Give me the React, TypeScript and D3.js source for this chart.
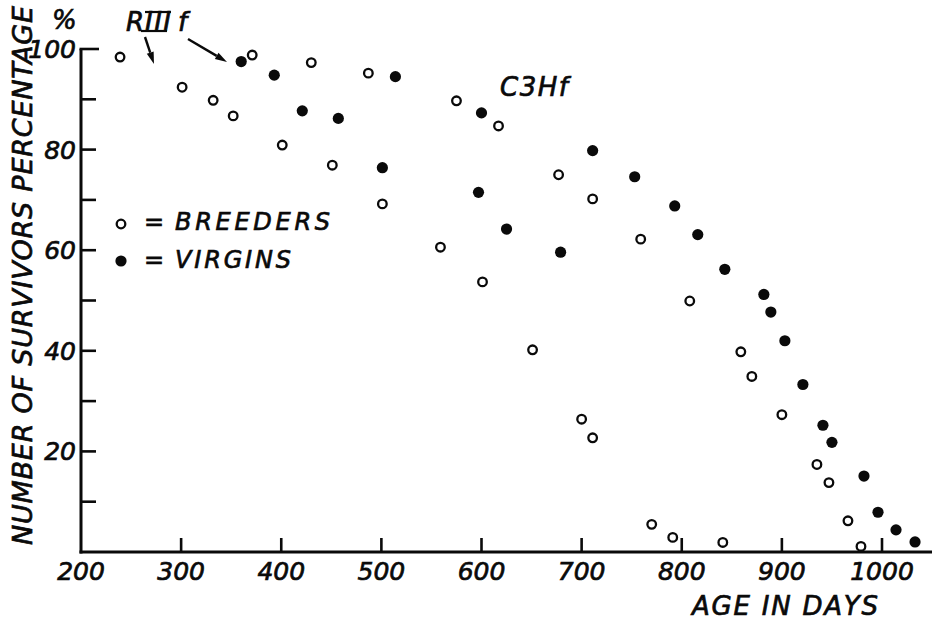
import React from "react";
import * as d3 from "d3";

const breedersDays = [239, 301, 332, 352, 371, 401, 430, 451, 487, 501, 559, 575, 601, 617, 651, 677, 700, 711, 711, 759, 770, 791, 808, 841, 859, 870, 900, 935, 947, 966, 979];
const breedersPct = [98.4, 92.4, 89.8, 86.7, 98.8, 80.9, 97.3, 76.9, 95.2, 69.2, 60.6, 89.7, 53.7, 84.7, 40.2, 75.0, 26.4, 70.2, 22.7, 62.2, 5.5, 2.9, 49.9, 1.9, 39.8, 34.9, 27.3, 17.4, 13.8, 6.2, 1.1];

const virginsDays = [360, 393, 421, 457, 501, 514, 597, 600, 625, 679, 711, 753, 793, 816, 843, 882, 889, 903, 921, 941, 950, 982, 996, 1014, 1033];
const virginsPct = [97.5, 94.8, 87.7, 86.2, 76.4, 94.5, 71.5, 87.3, 64.2, 59.6, 79.8, 74.6, 68.8, 63.1, 56.2, 51.2, 47.7, 42.0, 33.3, 25.2, 21.8, 15.1, 7.9, 4.4, 2.0];

const xTicks = [300, 400, 500, 600, 700, 800, 900, 1000];
const xTickLabels = [200, 300, 400, 500, 600, 700, 800, 900, 1000];
const yTicks = [10, 20, 30, 40, 50, 60, 70, 80, 90, 100];
const yTickLabels = [20, 40, 60, 80, 100];

const FONT = "'DejaVu Sans', sans-serif";
const INK = "#0a0a0a";

function arrow(x1: number, y1: number, x2: number, y2: number) {
  const dx = x2 - x1, dy = y2 - y1;
  const len = Math.hypot(dx, dy);
  const ux = dx / len, uy = dy / len;
  const hl = 12, hw = 3.6;
  const bx = x2 - ux * hl, by = y2 - uy * hl;
  const px = -uy, py = ux;
  return (
    <g>
      <line x1={x1} y1={y1} x2={bx} y2={by} stroke={INK} strokeWidth={2.4} />
      <polygon
        points={`${x2},${y2} ${bx + px * hw},${by + py * hw} ${bx - px * hw},${by - py * hw}`}
        fill={INK}
      />
    </g>
  );
}

export default function App() {
  const W = 934, H = 622;
  const x = d3.scaleLinear().domain([200, 1000]).range([81, 882]);
  const y = d3.scaleLinear().domain([0, 100]).range([552, 49]);

  const italic = {
    fontFamily: FONT,
    fontStyle: "italic" as const,
    fill: INK,
    stroke: INK,
    strokeWidth: 0.7,
  };

  return (
    <svg width={W} height={H} style={{ position: "absolute", left: 0, top: 0, background: "#fff" }}>
      <rect width={W} height={H} fill="#fff" />
      {/* axes */}
      <line x1={x(200)} y1={y(100)} x2={x(200)} y2={y(0) + 1.5} stroke={INK} strokeWidth={3} />
      <line x1={x(200) - 1.5} y1={y(0)} x2={932} y2={y(0)} stroke={INK} strokeWidth={3} />
      {yTicks.map((t) => (
        <line key={"yt" + t} x1={x(200) - (t === 100 ? 1.5 : 0)} x2={x(200) + (t === 100 ? 18 : 15)} y1={y(t)} y2={y(t)} stroke={INK} strokeWidth={2.6} />
      ))}
      {xTicks.map((t) => (
        <line key={"xt" + t} x1={x(t)} x2={x(t)} y1={y(0)} y2={y(0) - 14} stroke={INK} strokeWidth={2.6} />
      ))}
      {yTickLabels.map((t) => (
        <text key={"yl" + t} x={x(200) - 5} y={y(t) + 9} textAnchor="end" fontSize={25} style={italic}>
          {t}
        </text>
      ))}
      {xTickLabels.map((t) => (
        <text key={"xl" + t} x={x(t)} y={580} textAnchor="middle" fontSize={25} style={italic}>
          {t}
        </text>
      ))}
      <text x={52} y={29} fontSize={26} style={italic}>%</text>
      <text
        transform="translate(32,545) rotate(-90)"
        x={0}
        y={0}
        fontSize={27}
        textLength={539}
        lengthAdjust="spacing"
        style={italic}
      >
        NUMBER OF SURVIVORS PERCENTAGE
      </text>
      <text x={692} y={615} fontSize={26} textLength={186} lengthAdjust="spacing" style={italic}>
        AGE IN DAYS
      </text>

      {/* annotations */}
      <text x={126} y={31} fontSize={26} style={italic}>R</text>
      <text x={145} y={31} fontSize={26} letterSpacing={1.5} style={italic}>III</text>
      <line x1={145} x2={171} y1={12} y2={12} stroke={INK} strokeWidth={2.2} />
      <line x1={141} x2={167} y1={31} y2={31} stroke={INK} strokeWidth={2.2} />
      <text x={178} y={31} fontSize={26} style={italic}>f</text>
      {arrow(145, 37, 154, 64)}
      {arrow(188, 39, 227, 62)}
      <text x={500} y={96} fontSize={26} letterSpacing={1.5} style={italic}>C3Hf</text>

      {/* legend */}
      <circle cx={121} cy={224} r={4.3} fill="#fff" stroke={INK} strokeWidth={2.3} />
      <text x={144} y={230} fontSize={24} style={italic}>=</text>
      <text x={175} y={230} fontSize={24} textLength={155} lengthAdjust="spacing" style={italic}>BREEDERS</text>
      <circle cx={121} cy={261} r={5.6} fill={INK} />
      <text x={144} y={268} fontSize={24} style={italic}>=</text>
      <text x={175} y={268} fontSize={24} textLength={116} lengthAdjust="spacing" style={italic}>VIRGINS</text>

      {/* data */}
      {breedersDays.map((d, i) => (
        <circle key={"b" + i} cx={x(d)} cy={y(breedersPct[i])} r={4.3} fill="#fff" stroke={INK} strokeWidth={2.3} />
      ))}
      {virginsDays.map((d, i) => (
        <circle key={"v" + i} cx={x(d)} cy={y(virginsPct[i])} r={5.6} fill={INK} />
      ))}
    </svg>
  );
}
